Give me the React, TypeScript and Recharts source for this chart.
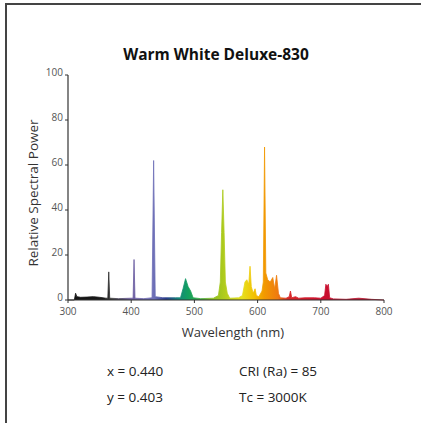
import { ComposedChart, Area, XAxis, YAxis } from "recharts";

// Hand-read spectrum: wavelength (nm) and relative power
const WAVELENGTHS = [
  300, 310, 312, 314, 320, 330, 340, 350, 360, 363, 364.5, 366, 380, 400, 403, 404.5, 406,
  420, 433, 435.5, 438, 450, 470, 478, 482, 486, 490, 494, 498, 510, 530, 538, 541, 543,
  545, 547, 549, 552, 556, 570, 576, 580, 583, 586, 588, 590, 593, 596, 598, 602, 607,
  609, 611, 613, 616, 620, 624, 627, 630, 633, 636, 645, 650, 652, 654, 660, 665, 675,
  690, 700, 706, 708, 710, 712, 714, 720, 740, 760, 780, 800,
];
const POWER = [
  0, 0, 3, 1.5, 1.2, 1.3, 1.5, 1.2, 0.8, 0.8, 12.5, 0.8, 0.6, 0.8, 0.8, 18, 0.8,
  0.6, 1, 62, 1.5, 1, 1, 1, 5, 9.5, 6, 4, 1, 0.6, 0.8, 2, 8, 30,
  49, 30, 8, 3, 0.8, 1, 2, 8, 9, 7, 15, 6, 3, 5, 2, 1.5, 4,
  8, 68, 12, 9, 8, 10, 5, 11, 3, 1, 0.8, 1.5, 4, 1, 1.5, 0.8, 1,
  1, 0.8, 2, 7, 6, 7, 1, 0.5, 0.3, 0.8, 0.3, 0,
];
const Y_TICKS = [0, 20, 40, 60, 80, 100];
const X_TICKS = [300, 400, 500, 600, 700, 800];

// colour stops across the 300-800 nm span
const SPECTRUM_STOPS: [number, string][] = [
  [300, "#111111"],
  [355, "#1a1a1a"],
  [370, "#3a3a3a"],
  [400, "#6a5a9e"],
  [436, "#6e70b8"],
  [455, "#2a3c8c"],
  [476, "#148a78"],
  [490, "#12a060"],
  [505, "#30a848"],
  [530, "#90c020"],
  [548, "#b2cc1c"],
  [575, "#e6e01e"],
  [595, "#f2c000"],
  [610, "#f29a00"],
  [632, "#ee7a10"],
  [648, "#d82828"],
  [700, "#cc1030"],
  [800, "#a81028"],
];

const data = WAVELENGTHS.map((w, i) => ({ w, p: POWER[i] }));

const FONT = '"Open Sans", "DejaVu Sans", sans-serif';

export default function App() {
  return (
    <div
      style={{
        position: "absolute",
        left: 0,
        top: 0,
        width: 421,
        height: 423,
        background: "#fff",
        fontFamily: FONT,
        color: "#222",
      }}
    >
      <div style={{ position: "absolute", left: 5, top: 3, width: 416, height: 1.5, background: "#444" }} />
      <div style={{ position: "absolute", left: 5, top: 3, width: 1.5, height: 420, background: "#444" }} />

      <div
        style={{
          position: "absolute",
          left: 0,
          width: 432,
          top: 43,
          textAlign: "center",
          fontWeight: 700,
          fontSize: 15.5,
          color: "#111",
        }}
      >
        Warm White Deluxe-830
      </div>

      <div
        style={{
          position: "absolute",
          left: 33,
          top: 193,
          transform: "translate(-50%, -50%) rotate(-90deg)",
          whiteSpace: "nowrap",
          fontSize: 13.5,
          color: "#333",
        }}
      >
        Relative Spectral Power
      </div>

      <ComposedChart
        width={421}
        height={423}
        data={data}
        margin={{ top: 75, right: 37, bottom: 103, left: 38 }}
        style={{ position: "absolute", left: 0, top: 0 }}
      >
        <defs>
          <linearGradient id="spectrum" x1="0" y1="0" x2="1" y2="0">
            {SPECTRUM_STOPS.map(([w, c]) => (
              <stop key={w} offset={`${((w - 300) / 500) * 100}%`} stopColor={c} />
            ))}
          </linearGradient>
        </defs>
        <XAxis
          dataKey="w"
          type="number"
          domain={[300, 800]}
          ticks={X_TICKS}
          height={20}
          tickSize={3}
          tickMargin={5}
          axisLine={{ stroke: "#333", strokeWidth: 1.2 }}
          tickLine={{ stroke: "#333" }}
          tick={{ fontSize: 10, fill: "#555", fontFamily: FONT }}
        />
        <YAxis
          type="number"
          domain={[0, 100]}
          ticks={Y_TICKS}
          width={30}
          tickSize={3}
          tickMargin={2}
          axisLine={{ stroke: "#333", strokeWidth: 1.2 }}
          tickLine={{ stroke: "#333" }}
          tick={{ fontSize: 10, fill: "#555", fontFamily: FONT, dy: -3 }}
        />
        <Area
          type="linear"
          dataKey="p"
          stroke="url(#spectrum)"
          strokeWidth={0.8}
          fill="url(#spectrum)"
          fillOpacity={1}
          dot={false}
          activeDot={false}
          isAnimationActive={false}
        />
      </ComposedChart>

      <div
        style={{
          position: "absolute",
          left: 0,
          width: 466,
          top: 323,
          textAlign: "center",
          fontSize: 13,
          color: "#333",
        }}
      >
        Wavelength (nm)
      </div>

      <div style={{ position: "absolute", left: 107, top: 358, fontSize: 13.5, color: "#222", lineHeight: "26px" }}>
        <div>x = 0.440</div>
        <div>y = 0.403</div>
      </div>
      <div style={{ position: "absolute", left: 239, top: 358, fontSize: 13.5, color: "#222", lineHeight: "26px" }}>
        <div>CRI (Ra) = 85</div>
        <div>Tc = 3000K</div>
      </div>
    </div>
  );
}
